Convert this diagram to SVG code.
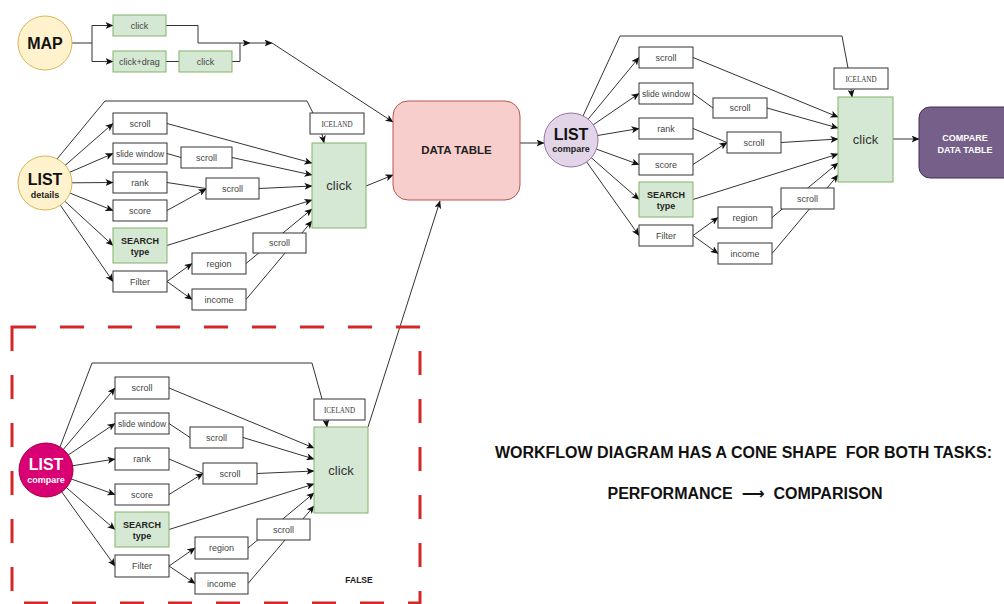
<svg xmlns="http://www.w3.org/2000/svg" width="1004" height="604" viewBox="0 0 1004 604">
<style>
.bg{fill:#ffffff}
.b{fill:#ffffff;stroke:#333333;stroke-width:1}
.g{fill:#d5e8d4;stroke:#82b366;stroke-width:1}
.t{font-family:"Liberation Sans",Arial,sans-serif;font-size:9px;fill:#444444;text-anchor:middle}
.tb{font-family:"Liberation Sans",Arial,sans-serif;font-size:9px;font-weight:bold;fill:#222222;text-anchor:middle}
.ti{font-family:"Liberation Serif","Times New Roman",serif;font-size:9px;fill:#333333;text-anchor:middle}
.tc{font-family:"Liberation Sans",Arial,sans-serif;font-size:13px;fill:#333333;text-anchor:middle}
.big{font-family:"Liberation Sans",Arial,sans-serif;font-size:16px;font-weight:bold;text-anchor:middle}
.e{fill:none;stroke:#333333;stroke-width:1}
.a{marker-end:url(#arr)}
.note{font-family:"Liberation Sans",Arial,"DejaVu Sans",sans-serif;font-size:16px;font-weight:bold;fill:#111111;text-anchor:middle;white-space:pre}
</style>
<defs>
<marker id="arr" markerUnits="userSpaceOnUse" markerWidth="8" markerHeight="7" refX="7.5" refY="3.5" orient="auto">
<path d="M0,0 L8,3.5 L0,7 L2,3.5 Z" fill="#111111"/>
</marker>
</defs>
<rect class="bg" x="0" y="0" width="1004" height="604"/>

<g id="connectors">
<!-- MAP -->
<path class="e a" d="M72,43 H92 V25.5 H113"/>
<path class="e a" d="M92,43 V61.5 H113"/>
<path class="e" d="M166,61.5 H179"/>
<path class="e a" d="M166,25.5 H198 V43 H250"/>
<path class="e" d="M232,61.5 H240 V43"/>
<path class="e a" d="M250,43 H272"/>
<path class="e a" d="M272,43 L393,122"/>
<!-- LIST details -->
<path class="e a" d="M45,183 L113,123.5"/>
<path class="e a" d="M45,183 L113,153.5"/>
<path class="e a" d="M45,183 L113,182.5"/>
<path class="e a" d="M45,183 L113,210.5"/>
<path class="e a" d="M45,183 L113,245.5"/>
<path class="e a" d="M45,183 L113,281.5"/>
<path class="e" d="M57,159 L105,101 H307 L313,113"/>
<path class="e a" d="M322,134 L324,143"/>
<path class="e a" d="M167,123.5 L312,163"/>
<path class="e" d="M167,153.5 L181,157.5"/>
<path class="e a" d="M232,157.5 L312,175"/>
<path class="e" d="M167,182.5 L206,188.5"/>
<path class="e a" d="M167,210.5 L206,189"/>
<path class="e a" d="M259,188.5 L312,186"/>
<path class="e a" d="M167,245.5 L312,200"/>
<path class="e a" d="M167,281.5 L192,263.5"/>
<path class="e a" d="M167,281.5 L192,299.5"/>
<path class="e a" d="M246,263.5 L312,209"/>
<path class="e a" d="M246,299.5 L312,221"/>
<path class="e a" d="M366,186 L393,175"/>
<!-- DATA TABLE to LIST compare -->
<path class="e a" d="M520,143 L544,143"/>
<!-- LIST compare (right) -->
<path class="e a" d="M571,140 L639,57.5"/>
<path class="e a" d="M571,140 L639,93.5"/>
<path class="e a" d="M571,140 L639,128.5"/>
<path class="e a" d="M571,140 L639,164.5"/>
<path class="e a" d="M571,140 L639,199.5"/>
<path class="e a" d="M571,140 L639,235.5"/>
<path class="e" d="M583,116 L620,36 H842 L848,68"/>
<path class="e a" d="M851,89 L852,97"/>
<path class="e a" d="M693,57.5 L838,117"/>
<path class="e" d="M693,93.5 L713,108"/>
<path class="e a" d="M767,108 L838,128"/>
<path class="e" d="M693,128.5 L727,142.5"/>
<path class="e a" d="M693,164.5 L727,142.5"/>
<path class="e a" d="M781,142.5 L838,139"/>
<path class="e a" d="M693,199.5 L838,154"/>
<path class="e a" d="M693,235.5 L718,217.5"/>
<path class="e a" d="M693,235.5 L718,253.5"/>
<path class="e a" d="M772,217.5 L838,163"/>
<path class="e a" d="M772,253.5 L838,175"/>
<path class="e a" d="M893,139 L919,139"/>
<!-- LIST compare (bottom) -->
<path class="e a" d="M46,470 L115,388"/>
<path class="e a" d="M46,470 L115,423.5"/>
<path class="e a" d="M46,470 L115,459"/>
<path class="e a" d="M46,470 L115,494.5"/>
<path class="e a" d="M46,470 L115,529.5"/>
<path class="e a" d="M46,470 L115,566"/>
<path class="e" d="M60,447 L92,363 H312 L322,399"/>
<path class="e a" d="M326,420 L327,427"/>
<path class="e a" d="M169,388 L314,448"/>
<path class="e" d="M169,423.5 L190,437.5"/>
<path class="e a" d="M243,437.5 L314,459"/>
<path class="e" d="M169,459 L203,473.5"/>
<path class="e a" d="M169,494.5 L203,473.5"/>
<path class="e a" d="M257,473.5 L314,471"/>
<path class="e a" d="M169,529.5 L314,484"/>
<path class="e a" d="M169,566 L195,548"/>
<path class="e a" d="M169,566 L195,583.5"/>
<path class="e a" d="M248,548 L314,493"/>
<path class="e a" d="M248,583.5 L314,506"/>
<path class="e a" d="M368,427 L440,201"/>
</g>

<!-- MAP group -->
<g id="map">
<circle cx="45" cy="43" r="27" fill="#fff2cc" stroke="#d6b656"/>
<text class="big" x="45" y="49" fill="#111">MAP</text>
</g>
<g id="map-click"><rect class="g" x="113" y="15" width="53" height="21"/><text class="t" x="139.5" y="28.5">click</text></g>
<g id="map-clickdrag"><rect class="g" x="113" y="51" width="53" height="21"/><text class="t" x="139.5" y="64.5">click+drag</text></g>
<g id="map-click2"><rect class="g" x="179" y="51" width="53" height="21"/><text class="t" x="205.5" y="64.5">click</text></g>

<!-- LIST details group -->
<g id="list-details">
<circle cx="45" cy="183" r="27" fill="#fff2cc" stroke="#d6b656"/>
<text class="big" x="45" y="185" fill="#111">LIST</text>
<text class="tb" x="45" y="198" fill="#111">details</text>
</g>
<g id="ld-scroll"><rect class="b" x="113" y="113" width="54" height="21"/><text class="t" x="140" y="126.5">scroll</text></g>
<g id="ld-slide"><rect class="b" x="113" y="143" width="54" height="21"/><text class="t" x="140" y="156.5" style="font-size:8.5px">slide window</text></g>
<g id="ld-rank"><rect class="b" x="113" y="172" width="54" height="21"/><text class="t" x="140" y="185.5">rank</text></g>
<g id="ld-score"><rect class="b" x="113" y="200" width="54" height="21"/><text class="t" x="140" y="213.5">score</text></g>
<g id="ld-search"><rect class="g" x="113" y="228" width="54" height="35"/><text class="tb" x="140" y="244">SEARCH</text><text class="tb" x="140" y="255">type</text></g>
<g id="ld-filter"><rect class="b" x="113" y="271" width="54" height="21"/><text class="t" x="140" y="284.5">Filter</text></g>
<g id="ld-scroll-a"><rect class="b" x="181" y="147" width="51" height="21"/><text class="t" x="206.5" y="160.5">scroll</text></g>
<g id="ld-scroll-b"><rect class="b" x="206" y="178" width="53" height="21"/><text class="t" x="232.5" y="191.5">scroll</text></g>
<g id="ld-scroll-c"><rect class="b" x="253" y="233" width="53" height="20"/><text class="t" x="279.5" y="246">scroll</text></g>
<g id="ld-region"><rect class="b" x="192" y="253" width="54" height="21"/><text class="t" x="219" y="266.5">region</text></g>
<g id="ld-income"><rect class="b" x="192" y="289" width="54" height="21"/><text class="t" x="219" y="302.5">income</text></g>
<g id="ld-iceland"><rect class="b" x="310" y="113" width="54" height="21"/><text class="ti" x="337" y="126.5" textLength="31" lengthAdjust="spacingAndGlyphs">ICELAND</text></g>
<g id="ld-click"><rect class="g" x="312" y="143" width="54" height="85"/><text class="tc" x="339" y="190">click</text></g>

<!-- DATA TABLE -->
<g id="data-table">
<rect x="393" y="101" width="127" height="99" rx="15" fill="#f8cecc" stroke="#b85450"/>
<text class="tb" x="456.5" y="154" style="font-size:11.5px" fill="#111">DATA TABLE</text>
</g>

<!-- LIST compare right -->
<g id="list-compare-right">
<circle cx="571" cy="140" r="27" fill="#e1d5e7" stroke="#9673a6"/>
<text class="big" x="571" y="140" fill="#111">LIST</text>
<text class="tb" x="571" y="152" fill="#111">compare</text>
</g>
<g id="rc-scroll"><rect class="b" x="639" y="47" width="54" height="21"/><text class="t" x="666" y="60.5">scroll</text></g>
<g id="rc-slide"><rect class="b" x="639" y="83" width="54" height="21"/><text class="t" x="666" y="96.5" style="font-size:8.5px">slide window</text></g>
<g id="rc-rank"><rect class="b" x="639" y="118" width="54" height="21"/><text class="t" x="666" y="131.5">rank</text></g>
<g id="rc-score"><rect class="b" x="639" y="154" width="54" height="21"/><text class="t" x="666" y="167.5">score</text></g>
<g id="rc-search"><rect class="g" x="639" y="182" width="54" height="35"/><text class="tb" x="666" y="198">SEARCH</text><text class="tb" x="666" y="209">type</text></g>
<g id="rc-filter"><rect class="b" x="639" y="225" width="54" height="21"/><text class="t" x="666" y="238.5">Filter</text></g>
<g id="rc-scroll-a"><rect class="b" x="713" y="98" width="54" height="20"/><text class="t" x="740" y="111">scroll</text></g>
<g id="rc-scroll-b"><rect class="b" x="727" y="132" width="54" height="21"/><text class="t" x="754" y="145.5">scroll</text></g>
<g id="rc-scroll-c"><rect class="b" x="781" y="188" width="53" height="21"/><text class="t" x="807.5" y="201.5">scroll</text></g>
<g id="rc-region"><rect class="b" x="718" y="207" width="54" height="21"/><text class="t" x="745" y="220.5">region</text></g>
<g id="rc-income"><rect class="b" x="718" y="243" width="54" height="21"/><text class="t" x="745" y="256.5">income</text></g>
<g id="rc-iceland"><rect class="b" x="834" y="68" width="54" height="21"/><text class="ti" x="861" y="81.5" textLength="31" lengthAdjust="spacingAndGlyphs">ICELAND</text></g>
<g id="rc-click"><rect class="g" x="838" y="97" width="55" height="85"/><text class="tc" x="865.5" y="144">click</text></g>
<g id="compare-data-table">
<rect x="919" y="107" width="96" height="71" rx="11" fill="#76608a" stroke="#432d57"/>
<text class="tb" x="965" y="141" style="fill:#ffffff">COMPARE</text>
<text class="tb" x="965" y="153" style="fill:#ffffff">DATA TABLE</text>
</g>

<!-- bottom LIST compare -->
<g id="list-compare-bottom">
<circle cx="46" cy="470" r="27" fill="#d80073" stroke="#a50040"/>
<text class="big" x="46" y="470" fill="#ffffff">LIST</text>
<text class="tb" x="46" y="483" style="fill:#ffffff">compare</text>
</g>
<g id="bc-scroll"><rect class="b" x="115" y="377" width="54" height="22"/><text class="t" x="142" y="391">scroll</text></g>
<g id="bc-slide"><rect class="b" x="115" y="413" width="54" height="21"/><text class="t" x="142" y="426.5" style="font-size:8.5px">slide window</text></g>
<g id="bc-rank"><rect class="b" x="115" y="448" width="54" height="22"/><text class="t" x="142" y="462">rank</text></g>
<g id="bc-score"><rect class="b" x="115" y="484" width="54" height="21"/><text class="t" x="142" y="497.5">score</text></g>
<g id="bc-search"><rect class="g" x="115" y="512" width="54" height="35"/><text class="tb" x="142" y="528">SEARCH</text><text class="tb" x="142" y="539">type</text></g>
<g id="bc-filter"><rect class="b" x="115" y="555" width="54" height="22"/><text class="t" x="142" y="569">Filter</text></g>
<g id="bc-scroll-a"><rect class="b" x="190" y="427" width="53" height="21"/><text class="t" x="216.5" y="440.5">scroll</text></g>
<g id="bc-scroll-b"><rect class="b" x="203" y="463" width="54" height="21"/><text class="t" x="230" y="476.5">scroll</text></g>
<g id="bc-scroll-c"><rect class="b" x="257" y="519" width="53" height="21"/><text class="t" x="283.5" y="532.5">scroll</text></g>
<g id="bc-region"><rect class="b" x="195" y="537" width="53" height="22"/><text class="t" x="221.5" y="551">region</text></g>
<g id="bc-income"><rect class="b" x="195" y="573" width="53" height="21"/><text class="t" x="221.5" y="586.5">income</text></g>
<g id="bc-iceland"><rect class="b" x="314" y="399" width="51" height="21"/><text class="ti" x="339.5" y="412.5" textLength="31" lengthAdjust="spacingAndGlyphs">ICELAND</text></g>
<g id="bc-click"><rect class="g" x="314" y="427" width="54" height="86"/><text class="tc" x="341" y="474.5">click</text></g>

<g id="false-frame">
<rect x="12" y="327" width="408" height="276" fill="none" stroke="#d62728" stroke-width="3" stroke-dasharray="24 24"/>
<text class="tb" x="359" y="583" style="font-size:8.5px" fill="#222">FALSE</text>
</g>

<g id="notes">
<text class="note" x="743.5" y="458" xml:space="preserve">WORKFLOW DIAGRAM HAS A CONE SHAPE  FOR BOTH TASKS:</text>
<text class="note" x="745" y="499" xml:space="preserve">PERFORMANCE  ⟶  COMPARISON</text>
</g>
</svg>
